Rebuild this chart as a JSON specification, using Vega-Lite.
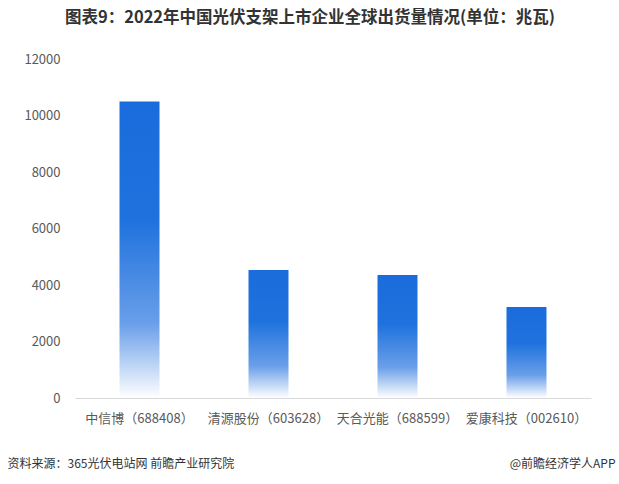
{
  "$schema": "https://vega.github.io/schema/vega-lite/v6.json",
  "autosize": "none",
  "width": 516,
  "height": 339,
  "padding": {"left": 75, "top": 59, "right": 28, "bottom": 86},
  "background": "#ffffff",
  "config": {
    "view": {"stroke": null},
    "font": "Noto Sans CJK SC"
  },
  "title": {
    "text": "图表9：2022年中国光伏支架上市企业全球出货量情况(单位：兆瓦)",
    "fontSize": 16.5,
    "fontWeight": "bold",
    "color": "#333333",
    "anchor": "middle",
    "frame": "group",
    "dx": -23,
    "offset": 27
  },
  "data": {
    "values": [
      {"company": "中信博（688408）", "shipment": 10500},
      {"company": "清源股份（603628）", "shipment": 4530},
      {"company": "天合光能（688599）", "shipment": 4350},
      {"company": "爱康科技（002610）", "shipment": 3220}
    ]
  },
  "mark": {
    "type": "bar",
    "color": {
      "gradient": "linear",
      "x1": 0, "y1": 0, "x2": 0, "y2": 1,
      "stops": [
        {"offset": 0, "color": "#1a6cdc"},
        {"offset": 0.4, "color": "#1f72de"},
        {"offset": 0.75, "color": "#6a9fe9"},
        {"offset": 1, "color": "#ffffff"}
      ]
    }
  },
  "encoding": {
    "x": {
      "field": "company",
      "type": "nominal",
      "sort": null,
      "scale": {"paddingInner": 0.69, "paddingOuter": 0.345},
      "axis": {
        "title": "资料来源：365光伏电站网 前瞻产业研究院",
        "titleFontSize": 12,
        "titleFontWeight": "normal",
        "titleColor": "#333333",
        "titleAnchor": "start",
        "titleAlign": "left",
        "titleBaseline": "middle",
        "titleX": -68,
        "titleY": 65,
        "labelAngle": 0,
        "labelFontSize": 13,
        "labelColor": "#595959",
        "labelPadding": 14,
        "ticks": false,
        "domainColor": "#d9d9d9",
        "domainWidth": 1
      }
    },
    "y": {
      "field": "shipment",
      "type": "quantitative",
      "scale": {"domain": [0, 12000], "nice": false},
      "axis": {
        "values": [0, 2000, 4000, 6000, 8000, 10000, 12000],
        "format": "d",
        "grid": false,
        "domain": false,
        "ticks": false,
        "labelFontSize": 13,
        "labelColor": "#595959",
        "labelPadding": 15,
        "title": "@前瞻经济学人APP",
        "titleAngle": 0,
        "titleFontSize": 12,
        "titleFontWeight": "normal",
        "titleColor": "#333333",
        "titleAlign": "right",
        "titleBaseline": "middle",
        "titleX": 540,
        "titleY": 404
      }
    }
  }
}
